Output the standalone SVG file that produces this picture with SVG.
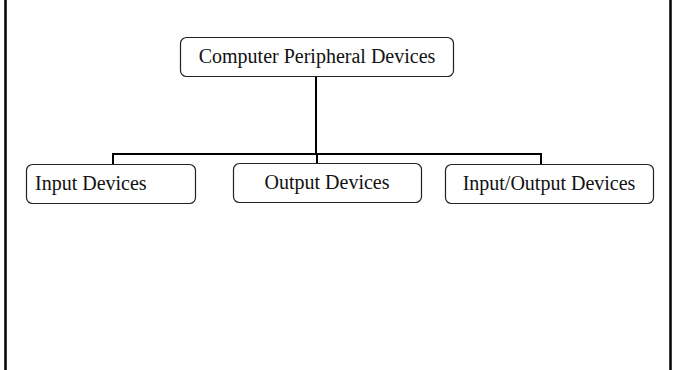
<svg xmlns="http://www.w3.org/2000/svg" width="673" height="370" viewBox="0 0 673 370">
  <style>
    .box { fill: #ffffff; stroke: #222222; stroke-width: 1.2; }
    .label { font-family: "Liberation Serif", "Times New Roman", serif; font-size: 20px; fill: #111111; }
    .wire { fill: none; stroke: #000000; stroke-width: 2; }
    .frame { stroke: #000000; stroke-width: 2.5; }
  </style>
  <rect width="673" height="370" fill="#ffffff"/>

  <!-- page frame sides -->
  <g id="frame">
    <line class="frame" x1="5.5" y1="0" x2="5.5" y2="370"/>
    <line class="frame" x1="670.5" y1="0" x2="670.5" y2="370"/>
  </g>

  <!-- connectors -->
  <g id="connectors">
    <path class="wire" d="M316 76 V154"/>
    <path class="wire" d="M113 164 V154 H541 V164"/>
    <path class="wire" d="M317 154 V163"/>
  </g>

  <g id="peripherals">
    <rect class="box" x="180.5" y="37.5" width="273" height="39" rx="6"/>
    <text class="label" x="317" y="62.5" text-anchor="middle">Computer Peripheral Devices</text>
  </g>

  <g id="input">
    <rect class="box" x="26.5" y="164.5" width="169" height="39" rx="6"/>
    <text class="label" x="35" y="189.5">Input Devices</text>
  </g>

  <g id="output">
    <rect class="box" x="233.5" y="163.5" width="188" height="39" rx="6"/>
    <text class="label" x="327" y="188.5" text-anchor="middle">Output Devices</text>
  </g>

  <g id="input-output">
    <rect class="box" x="445.5" y="164.5" width="208" height="39" rx="6"/>
    <text class="label" x="549" y="189.5" text-anchor="middle">Input/Output Devices</text>
  </g>
</svg>
